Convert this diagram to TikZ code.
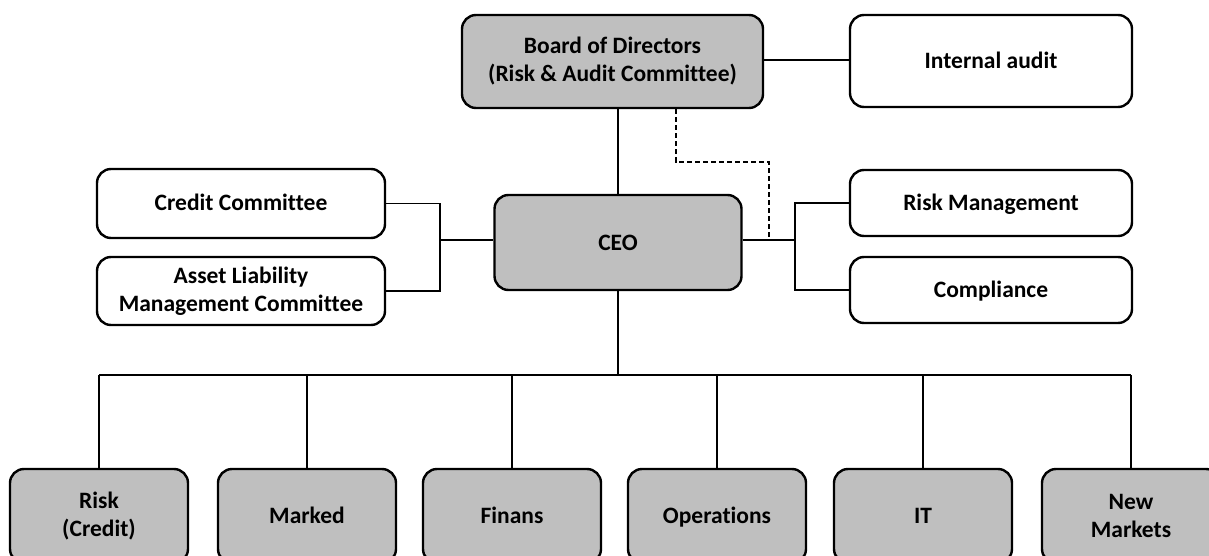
\documentclass[tikz,border=0pt]{standalone}
\usepackage{fontspec}
\setmainfont{Carlito}[Ligatures=NoCommon]
\begin{document}
\begin{tikzpicture}[x=1pt,y=-1pt,
  box/.style={draw=black, line width=2.4pt, rounded corners=14pt, align=center,
    inner sep=0pt, font=\fontsize{23.5}{28}\selectfont\bfseries},
  grey/.style={box, fill=boxgrey},
  white/.style={box, fill=white},
  oneline/.style={text height=15pt, text depth=0pt},
  link/.style={draw=black, line width=1.8pt},
  dash link/.style={link, dash pattern=on 5pt off 3pt}]
\definecolor{boxgrey}{HTML}{BFBFBF}
\useasboundingbox (0,0) rectangle (1209,556);
\begin{scope}
\clip (0,0) rectangle (1209,556);

% top level
\node[grey, minimum width=301pt, minimum height=93pt] (board) at (612.5,61.5)
  {Board of Directors\\(Risk \& Audit Committee)};
\node[white, oneline, minimum width=282pt, minimum height=92pt] (audit) at (991,61) {Internal audit};

% CEO and committees
\node[grey, oneline, minimum width=247pt, minimum height=95pt] (ceo) at (618,242.5) {CEO};
\node[white, oneline, minimum width=288pt, minimum height=69pt] (cc) at (241,203.5) {Credit Committee};
\node[white, minimum width=288pt, minimum height=68pt] (alm) at (241,291)
  {Asset Liability\\Management Committee};
\node[white, oneline, minimum width=282pt, minimum height=66pt] (rm) at (991,203) {Risk Management};
\node[white, oneline, minimum width=282pt, minimum height=66pt] (comp) at (991,290) {Compliance};

% departments
\foreach \name/\xx/\txt/\st in {risk/99/{Risk\\(Credit)}/{}, marked/307/Marked/oneline,
    finans/512/Finans/oneline, ops/717/Operations/oneline, it/923/IT/oneline,
    newm/1131/{New\\Markets}/{}}
  \node[grey, \st, minimum width=178pt, minimum height=94pt] (\name) at (\xx,516) {\txt};

% connector junctions
\coordinate (lj) at (440,240);
\coordinate (rj) at (795,240);
\coordinate (bj) at (618,375);
\coordinate (d1) at (676,162);
\coordinate (d2) at (769,162);
\end{scope}

% connectors
\draw[link] (board.east |- 0,60) -- (audit.west |- 0,60);
\draw[link] (ceo.north) -- (ceo.north |- board.south);
\draw[link] (cc.east) -| (lj) |- (alm.east);
\draw[link] (lj) -- (ceo.west |- lj);
\draw[link] (ceo.east |- rj) -- (rj);
\draw[link] (rm.west) -| (rj) |- (comp.west);
\draw[dash link] (d1 |- board.south) -- (d1) -- (d2) -- (d2 |- rj);
\draw[link] (ceo.south) -- (bj);
\draw[link] (risk.north |- bj) -- (newm.north |- bj);
\foreach \name in {risk,marked,finans,ops,it,newm}
  \draw[link] (\name.north) -- (\name.north |- bj);
\end{tikzpicture}
\end{document}
